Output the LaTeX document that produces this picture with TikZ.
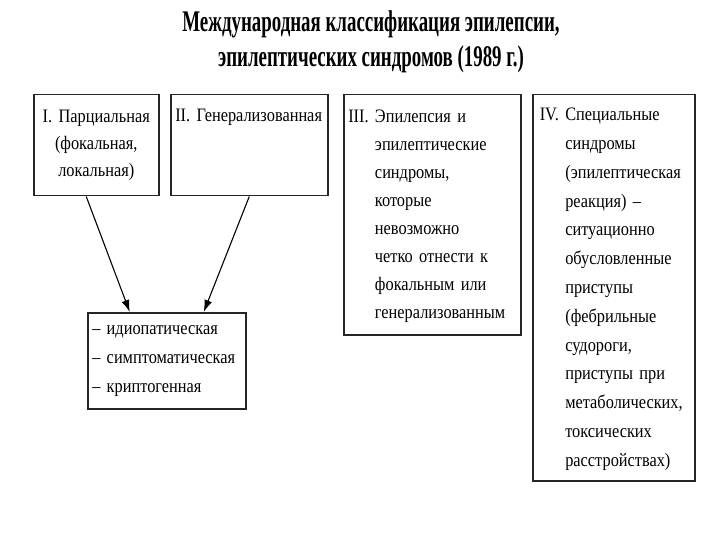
\documentclass[tikz,border=0pt]{standalone}
\usepackage{fontspec}
\setmainfont{Liberation Serif}[FakeStretch=0.86]
\newfontfamily\titlefont{Liberation Serif}[FakeStretch=0.63]
\usetikzlibrary{arrows.meta,positioning}

\begin{document}
\begin{tikzpicture}[
        x=1pt, y=-1pt,
        font=\fontsize{19}{28.5}\selectfont,
        box/.style={draw=black!85, line width=1.5pt, anchor=north west, align=left, inner xsep=4.5pt, inner ysep=4pt},
        arr/.style={-{Latex[length=12pt,width=8pt]}, line width=1.1pt}
    ]
        \useasboundingbox (0,0) rectangle (720,540);
        \node[font=\titlefont\bfseries\fontsize{30}{35}\selectfont, align=center] (title) at (371,42)
            {Международная классификация эпилепсии,\\эпилептических синдромов (1989 г.)};
        % top row
        \node[box, align=center, text width=116pt, minimum height=101pt, font=\fontsize{19}{27}\selectfont] (part) at (33,94)
            {I. Парциальная\\(фокальная,\\локальная)};
        \node[box, text width=148pt, minimum height=101pt, text depth=60pt] (gen) at (170,94)
            {II.~Генерализованная};
        \node[box, text width=168pt, minimum height=240pt, font=\fontsize{19}{28.1}\selectfont] (undet) at (343,94)
            {\begin{tabular}{@{}l@{\ }l@{}}
             III. & Эпилепсия и\\
                  & эпилептические\\
                  & синдромы,\\
                  & которые\\
                  & невозможно\\
                  & четко отнести к\\
                  & фокальным или\\
                  & генерализованным
             \end{tabular}};
        \node[box, inner xsep=7pt, text width=148pt, minimum height=386pt, font=\fontsize{19}{28.8}\selectfont] (spec) at (532,94)
            {\begin{tabular}{@{}l@{\ }l@{}}
             IV. & Специальные\\
                 & синдромы\\
                 & (эпилептическая\\
                 & реакция) –\\
                 & ситуационно\\
                 & обусловленные\\
                 & приступы\\
                 & (фебрильные\\
                 & судороги,\\
                 & приступы при\\
                 & метаболических,\\
                 & токсических\\
                 & расстройствах)
             \end{tabular}};
        % common subtypes
        \node[box, text width=149pt, minimum height=96pt, font=\fontsize{19}{29}\selectfont] (kinds) at (87,312)
            {–~идиопатическая\\–~симптоматическая\\–~криптогенная};
        \draw[arr] ([xshift=-10pt]part.south) -- ([xshift=-37pt]kinds.north);
        \draw[arr] (gen.south) -- ([xshift=37pt]kinds.north);
    \end{tikzpicture}
\end{document}
